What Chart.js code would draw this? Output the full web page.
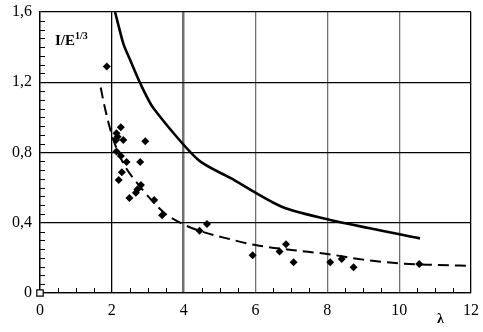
<!DOCTYPE html>
<html>
<head>
<meta charset="utf-8">
<script src="https://cdn.jsdelivr.net/npm/chart.js@4"></script>
<style>
  html, body { margin: 0; padding: 0; background: #fff; }
  #wrap { width: 483px; height: 332px; position: relative; }
</style>
</head>
<body>
<div id="wrap"><canvas id="graph"></canvas></div>
<script>
// measured points (lambda, I/E^1/3)
const pointsX = [1.86, 2.25, 2.13, 2.16, 2.12, 2.32, 2.93, 2.13, 2.25, 2.41, 2.79, 2.28, 2.19, 2.81, 2.71, 2.67, 2.49, 3.18, 3.40, 4.65, 4.44, 5.92, 6.67, 6.85, 7.06, 8.08, 8.40, 8.73, 10.56];
const pointsY = [1.29, 0.944, 0.909, 0.89, 0.871, 0.871, 0.864, 0.805, 0.78, 0.746, 0.746, 0.687, 0.643, 0.615, 0.59, 0.571, 0.541, 0.53, 0.442, 0.393, 0.355, 0.215, 0.237, 0.277, 0.175, 0.175, 0.194, 0.146, 0.165];

// solid curve
const solidX = [2.09, 2.32, 2.51, 2.79, 3.16, 4.41, 5.3, 6.73, 8.08, 10.58];
const solidY = [1.6, 1.42, 1.327, 1.194, 1.052, 0.757, 0.655, 0.491, 0.416, 0.311];

// dashed fit
const dashX = [1.69, 1.8, 2.0, 2.2, 2.4, 2.6, 3.1, 3.5, 4.0, 4.5, 5.2, 6.0, 7.0, 8.0, 9.0, 10.0, 11.0, 12.0];
const dashY = [1.17, 1.06, 0.9, 0.79, 0.71, 0.653, 0.53, 0.45, 0.39, 0.35, 0.311, 0.273, 0.245, 0.222, 0.19, 0.169, 0.16, 0.154];

const xTicks = [0, 2, 4, 6, 8, 10, 12];
const yTicks = [0, 0.4, 0.8, 1.2, 1.6];

const toXY = (xs, ys) => xs.map((x, i) => ({x: x, y: ys[i]}));
const serif = "'Liberation Serif', 'DejaVu Serif', serif";

const minorTicks = {
  id: 'minorTicks',
  afterDraw(chart) {
    const ctx = chart.ctx, xs = chart.scales.x, ys = chart.scales.y;
    const a = chart.chartArea;
    ctx.save();
    ctx.strokeStyle = '#000';
    ctx.lineWidth = 1;
    ctx.beginPath();
    for (let v = 0.5; v < 12; v += 0.5) {
      if (Math.abs(v % 2) < 1e-6) continue;
      const px = Math.round(xs.getPixelForValue(v)) + 0.5;
      ctx.moveTo(px, a.bottom);
      ctx.lineTo(px, a.bottom - 5);
    }
    for (let k = 1; k < 32; k++) {
      if (k % 8 === 0) continue;
      const py = Math.round(ys.getPixelForValue(k * 0.05)) + 0.5;
      ctx.moveTo(a.left, py);
      ctx.lineTo(a.left + 5, py);
    }
    ctx.stroke();
    // axis captions
    ctx.fillStyle = '#000';
    ctx.textBaseline = 'alphabetic';
    ctx.font = "bold 15px " + serif;
    ctx.fillText('I/E', a.left + 15, a.top + 33);
    const w = ctx.measureText('I/E').width;
    ctx.font = "bold 10px " + serif;
    ctx.fillText('1/3', a.left + 15 + w, a.top + 27);
    ctx.font = "bold 14px " + serif;
    ctx.fillText('λ', xs.getPixelForValue(11.05), a.bottom + 30);
    ctx.restore();
  }
};

const gridColorX = (c) => {
  const v = c.tick && c.tick.value;
  if (v === 0 || v === 2 || v === 12) return '#000';
  return '#707070';
};
const gridWidthX = (c) => {
  const v = c.tick && c.tick.value;
  if (v === 4) return 2.5;
  return 1.3;
};

new Chart(document.getElementById('graph'), {
  type: 'scatter',
  data: {
    datasets: [
      {
        label: 'solid',
        type: 'line',
        data: toXY(solidX, solidY),
        borderColor: '#000',
        borderWidth: 2.6,
        pointRadius: 0,
        tension: 0.25,
        fill: false
      },
      {
        label: 'dashed',
        type: 'line',
        data: toXY(dashX, dashY),
        borderColor: '#000',
        borderWidth: 2,
        borderDash: [11, 6],
        pointRadius: 0,
        cubicInterpolationMode: 'monotone',
        fill: false
      },
      {
        label: 'points',
        data: toXY(pointsX, pointsY),
        pointStyle: 'rectRot',
        pointRadius: 4,
        backgroundColor: '#000',
        borderColor: '#000',
        borderWidth: 0
      },
      {
        label: 'origin',
        data: [{x: 0, y: 0}],
        pointStyle: 'rect',
        pointRadius: 4.5,
        backgroundColor: '#fff',
        borderColor: '#000',
        borderWidth: 1.2,
        clip: false
      }
    ]
  },
  options: {
    responsive: true,
    maintainAspectRatio: false,
    animation: false,
    layout: { padding: { top: 12, right: 12, left: 0, bottom: 0 } },
    plugins: { legend: { display: false }, tooltip: { enabled: false } },
    scales: {
      x: {
        type: 'linear',
        min: 0, max: 12,
        afterFit: (s) => { s.height = 39; s.paddingLeft = 0; s.paddingRight = 0; },
        afterBuildTicks: (s) => { s.ticks = xTicks.map(v => ({value: v})); },
        ticks: {
          color: '#000',
          padding: 8,
          font: { family: serif, size: 16 },
          callback: (v) => String(v)
        },
        grid: { color: gridColorX, lineWidth: gridWidthX, drawTicks: false },
        border: { color: '#000', width: 1.3 }
      },
      y: {
        min: 0, max: 1.6,
        afterFit: (s) => { s.width = 40; s.paddingTop = 0; s.paddingBottom = 0; },
        afterBuildTicks: (s) => { s.ticks = yTicks.map(v => ({value: v})); },
        ticks: {
          color: '#000',
          padding: 8,
          font: { family: serif, size: 16 },
          callback: (v) => v === 0 ? '0' : v.toFixed(1).replace('.', ',')
        },
        grid: { color: '#000', lineWidth: 1.3, drawTicks: false },
        border: { color: '#000', width: 1.3 }
      }
    }
  },
  plugins: [minorTicks]
});
</script>
</body>
</html>
